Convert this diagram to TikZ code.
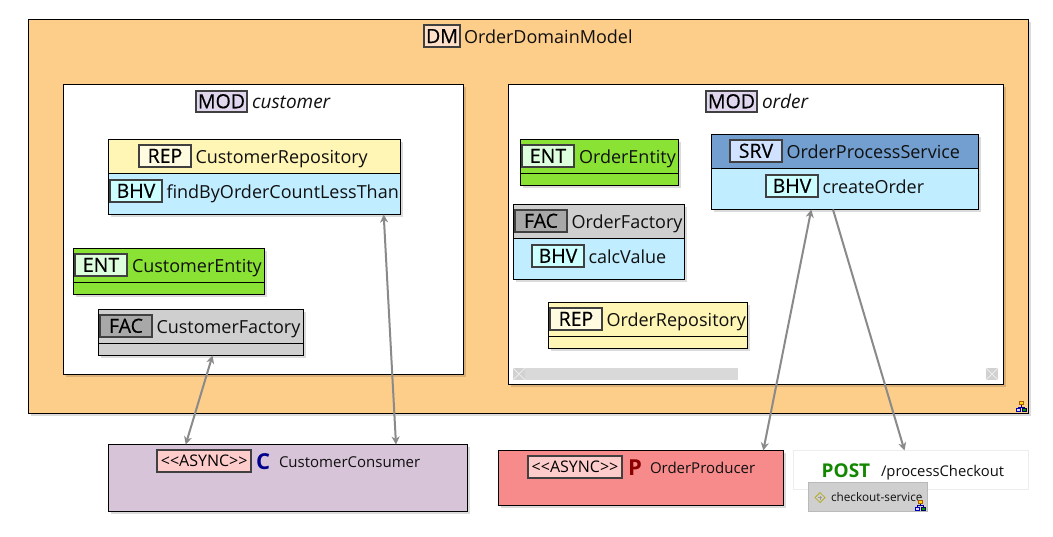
\documentclass[tikz,border=0pt]{standalone}
\usepackage{fontspec}
\setmainfont{Open Sans}
\usetikzlibrary{arrows.meta,shadows}
\definecolor{dmfill}{HTML}{FDCD8A}
\definecolor{repfill}{HTML}{FFF5B5}
\definecolor{bhvfill}{HTML}{C0EDFF}
\definecolor{entfill}{HTML}{8AE234}
\definecolor{facfill}{HTML}{CFCFCF}
\definecolor{srvfill}{HTML}{729FCF}
\definecolor{modbadge}{HTML}{E0D7EE}
\definecolor{dmbadge}{HTML}{FEE0C8}
\definecolor{repbadge}{HTML}{FFFBE0}
\definecolor{bhvbadge}{HTML}{CCFFFF}
\definecolor{entbadge}{HTML}{DDFFDD}
\definecolor{facbadge}{HTML}{A8A8A8}
\definecolor{srvbadge}{HTML}{D0E2FF}
\definecolor{asyncbadge}{HTML}{FFCCCC}
\definecolor{consfill}{HTML}{D8C4D8}
\definecolor{prodfill}{HTML}{F78B8B}
\definecolor{edge}{HTML}{8A8A8A}
\definecolor{txtc}{HTML}{101010}
\newfontfamily\badgefont[FakeBold=0.35]{Open Sans}
\tikzset{
  boxb/.style={rectangle,inner sep=0pt,outer sep=0pt,anchor=north west,line width=1pt,draw=black},
  sh/.style={general shadow={fill=black,opacity=.14,shadow xshift=2.5pt,shadow yshift=-2.5pt}},
  badge/.style={rectangle,inner sep=0pt,outer sep=0pt,anchor=north west,draw=black!75,line width=2pt,
     text height=14pt,text depth=0pt,font=\badgefont\fontsize{19.5}{20}\selectfont,text=black},
  asyncb/.style={badge,fill=asyncbadge,text height=11pt,font=\fontsize{16}{16}\selectfont},
  lblt/.style={anchor=base west,inner sep=0pt,outer sep=0pt,yshift=-0.8pt,text=txtc,font=\fontsize{18}{20}\selectfont},
  itlt/.style={lblt,font=\fontsize{19}{20}\selectfont\itshape},
  smalltxt/.style={lblt,font=\fontsize{15}{17}\selectfont},
  conn/.style={draw=edge,line width=2pt},
  twoway/.style={conn,{Stealth[inset=2.5pt,length=8pt,width=8pt]}-{Stealth[inset=2.5pt,length=8pt,width=8pt]}},
  oneway/.style={conn,-{Stealth[inset=2.5pt,length=8pt,width=8pt]}},
  neticon/.pic={
    \draw[draw=blue!60!black,line width=.6pt] (5.5,4) -- (5.5,6) (2.5,7.5) -- (2.5,6) -- (8.5,6) -- (8.5,7.5);
    \draw[fill=yellow!80!orange,draw=orange!70!black,line width=.7pt] (3.8,.5) rectangle (7.2,3.8);
    \draw[fill=blue!15,draw=blue!70!black,line width=.7pt] (.5,7.5) rectangle (4.7,10.5);
    \draw[fill=green!60!black,draw=blue!40!black,line width=.7pt] (6.5,7.5) rectangle (10.7,10.5);
  }
}
\newcommand{\rct}[7]{\node[boxb,minimum width={(#4-#2)*1pt},minimum height={(#5-#3)*1pt},#6] (#1) at (#2,#3) {#7};}
\newcommand{\bdg}[7]{\node[badge,minimum width={(#4-#2)*1pt},minimum height={(#5-#3)*1pt},#6] (#1) at (#2,#3) {#7};}
\newcommand{\lbl}[5]{\node[#4] (#1) at (#2,#3) {#5};}
\begin{document}
\begin{tikzpicture}[x=1pt,y=-1pt]
\useasboundingbox (0,0) rectangle (1053,536);
\fill[white] (0,0) rectangle (1053,536);
% domain
\rct{dm}{28.5}{19.5}{1028.5}{413.5}{fill=dmfill,sh}{}
\bdg{dmb}{424}{25}{460}{47}{fill=dmbadge}{DM}
\lbl{dmt}{464}{42.7}{lblt}{OrderDomainModel}
\pic at (1016,401) {neticon};
% modules
\rct{modc}{63.5}{84.5}{463.5}{374.5}{fill=white,sh}{}
\bdg{modcb}{196}{90.5}{247}{112}{fill=modbadge}{MOD}
\lbl{modct}{252}{107.7}{itlt}{customer}
\rct{modo}{508.5}{84.5}{1003.5}{384}{fill=white,sh}{}
\bdg{modob}{706}{90.5}{757}{112}{fill=modbadge}{MOD}
\lbl{modot}{762}{107.7}{itlt}{order}
% customer repository
\rct{crep}{108.5}{139.5}{400.5}{214.5}{fill=bhvfill,sh}{}
\rct{creph}{108.5}{139.5}{400.5}{173.5}{fill=repfill}{}
\bdg{crepb}{139}{145}{191}{166.5}{fill=repbadge}{REP}
\lbl{crept}{195.5}{162.7}{lblt}{CustomerRepository}
\bdg{crepm}{110}{180}{162}{201.5}{fill=bhvbadge}{BHV}
\lbl{crepn}{166.5}{197.7}{lblt}{findByOrderCountLessThan}
% customer entity
\rct{cent}{73.5}{248.5}{264.5}{294.5}{fill=entfill,sh}{}
\rct{centh}{73.5}{248.5}{264.5}{282.5}{fill=entfill}{}
\bdg{centb}{75}{254}{127}{275.5}{fill=entbadge}{ENT}
\lbl{centt}{132}{271.7}{lblt}{CustomerEntity}
% customer factory
\rct{cfac}{98.5}{309.5}{303.5}{355.5}{fill=facfill,sh}{}
\rct{cfach}{98.5}{309.5}{303.5}{343.5}{fill=facfill}{}
\bdg{cfacb}{100}{315}{152}{336.5}{fill=facbadge}{FAC}
\lbl{cfact}{156.5}{332.7}{lblt}{CustomerFactory}
% order entity
\rct{oent}{520.5}{139.5}{678}{185.5}{fill=entfill,sh}{}
\rct{oenth}{520.5}{139.5}{678}{173.5}{fill=entfill}{}
\bdg{oentb}{522}{145}{574}{166.5}{fill=entbadge}{ENT}
\lbl{oentt}{579}{162.7}{lblt}{OrderEntity}
% order factory
\rct{ofac}{513.5}{204.5}{684.5}{279.5}{fill=bhvfill,sh}{}
\rct{ofach}{513.5}{204.5}{684.5}{238.5}{fill=facfill}{}
\bdg{ofacb}{515}{210}{567}{231.5}{fill=facbadge}{FAC}
\lbl{ofact}{571.5}{227.7}{lblt}{OrderFactory}
\bdg{ofacm}{532}{245}{584}{266.5}{fill=bhvbadge}{BHV}
\lbl{ofacn}{588.5}{262.7}{lblt}{calcValue}
% order process service
\rct{srv}{711.5}{134.5}{978.5}{209.5}{fill=bhvfill,sh}{}
\rct{srvh}{711.5}{134.5}{978.5}{168.5}{fill=srvfill}{}
\bdg{srvb}{730}{140}{782}{161.5}{fill=srvbadge}{SRV}
\lbl{srvt}{786.5}{157.7}{lblt}{OrderProcessService}
\bdg{srvm}{766}{175}{818}{196.5}{fill=bhvbadge}{BHV}
\lbl{srvn}{822.5}{192.7}{lblt}{createOrder}
% order repository
\rct{orep}{548.5}{302.5}{747.5}{348.5}{fill=repfill,sh}{}
\rct{oreph}{548.5}{302.5}{747.5}{336.5}{fill=repfill}{}
\bdg{orepb}{550}{308}{602}{329.5}{fill=repbadge}{REP}
\lbl{orept}{606.5}{325.7}{lblt}{OrderRepository}
% scroll bar
\node[boxb,draw=none,fill=black!15,minimum width=225pt,minimum height=12pt] (bar) at (513,368) {};
\node[boxb,draw=none,fill=black!18,minimum width=12pt,minimum height=12pt] (barl) at (513,368) {};
\node[boxb,draw=none,fill=black!18,minimum width=12pt,minimum height=12pt] (barr) at (986,368) {};
\draw[black!8,line width=1pt] (barl.north west) -- (barl.south east) (barl.north east) -- (barl.south west);
\draw[black!8,line width=1pt] (barr.north west) -- (barr.south east) (barr.north east) -- (barr.south west);
% consumer
\rct{cons}{108.5}{444.5}{467.5}{511.5}{fill=consfill,sh}{}
\bdg{consb}{157.2}{450}{251.2}{471.8}{asyncb}{<{}<ASYNC>{}>}
\lbl{consl}{256}{468.5}{lblt,font=\fontsize{22}{22}\selectfont\bfseries,text={rgb,255:red,0;green,0;blue,140}}{C}
\lbl{const}{279}{466.7}{smalltxt}{CustomerConsumer}
% producer
\rct{prod}{498.5}{450.5}{783.5}{505.5}{fill=prodfill,sh}{}
\bdg{prodb}{527.8}{456}{622.2}{477.8}{asyncb}{<{}<ASYNC>{}>}
\lbl{prodl}{628}{474.5}{lblt,font=\fontsize{22}{22}\selectfont\bfseries,text={rgb,255:red,140;green,0;blue,0}}{P}
\lbl{prodt}{650}{472.7}{smalltxt}{OrderProducer}
% post
\rct{post}{793.5}{450.5}{1028.5}{489}{fill=white,draw=black!7}{}
\lbl{postm}{821.7}{476.7}{lblt,font=\fontsize{19}{20}\selectfont\bfseries,text={rgb,255:red,20;green,135;blue,0}}{POST}
\lbl{postt}{881}{475.7}{lblt,font=\fontsize{14.8}{16}\selectfont}{/processCheckout}
\rct{svc}{808.5}{482.5}{927.5}{511.5}{fill=black!19,draw=black!27}{}
\lbl{svct}{831}{500.7}{lblt,font=\fontsize{11.8}{13}\selectfont}{checkout-service}
\draw[draw=olive!70!yellow,line width=.7pt] (820,492.5) -- (825,497.5) -- (820,502.5) -- (815,497.5) -- cycle;
\draw[draw=black!40,line width=.5pt] (820,495.5) -- (820,499.5) (818,497.5) -- (822,497.5);
\pic at (915,499.5) {neticon};
% connectors
\draw[twoway] ([xshift=11.5pt]cfac.south) -- ([xshift=-102.3pt]cons.north);
\draw[twoway] ([xshift=129.2pt]crep.south) -- ([xshift=108pt]cons.north);
\draw[twoway] ([xshift=-33.7pt]srv.south) -- ([xshift=122.3pt]prod.north);
\draw[oneway] ([xshift=-12pt]srv.south) -- ([xshift=-6.5pt]post.north);
\end{tikzpicture}
\end{document}
